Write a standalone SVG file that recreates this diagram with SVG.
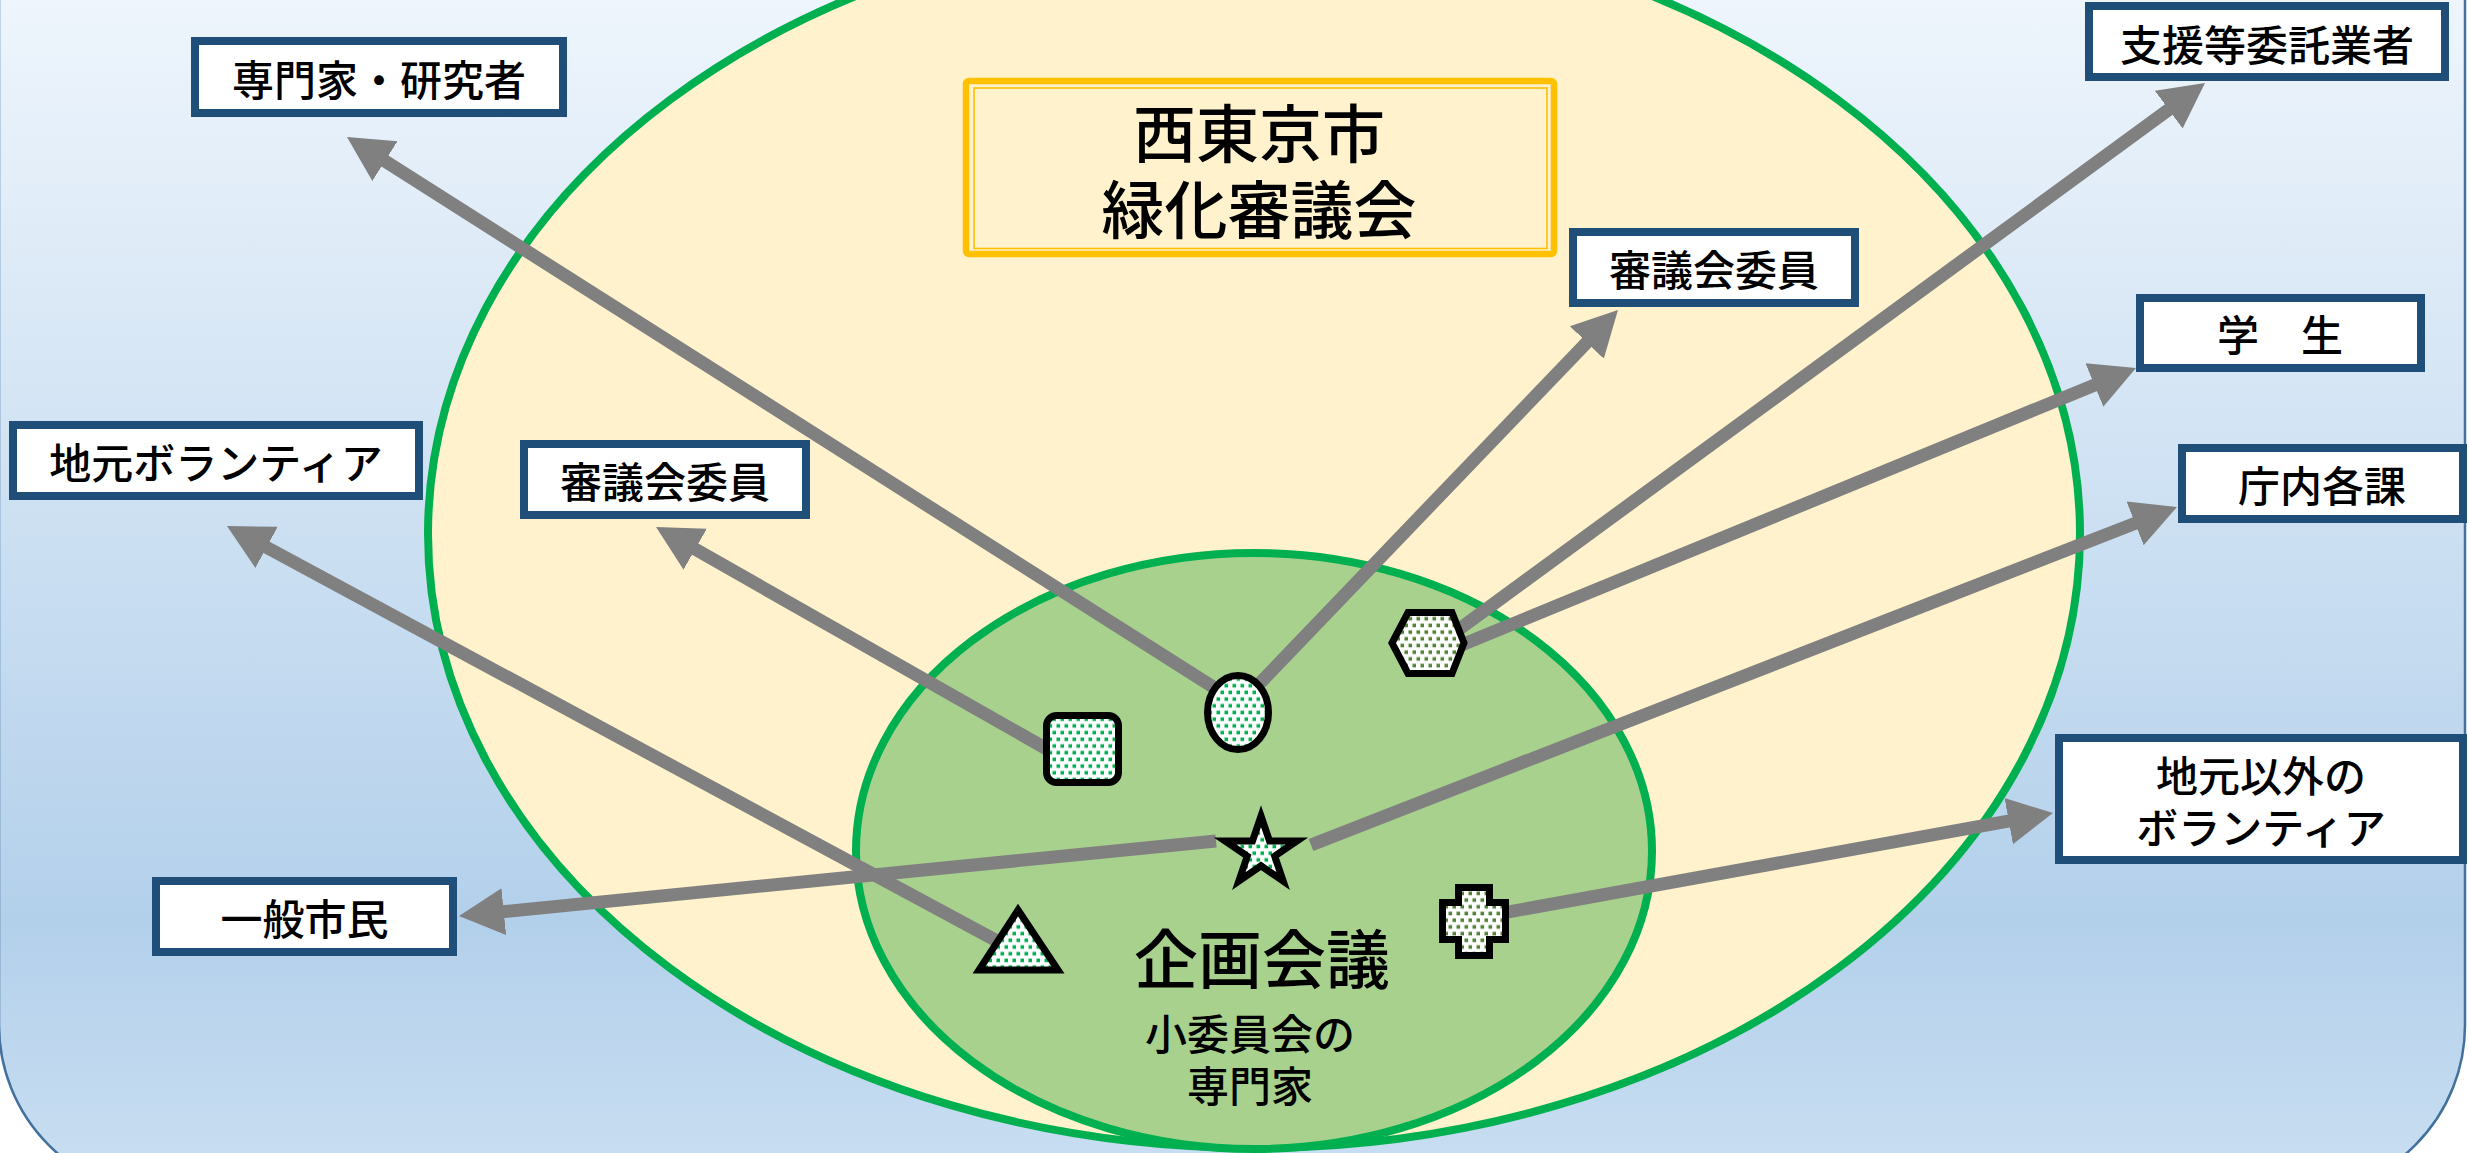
<svg xmlns="http://www.w3.org/2000/svg" width="2469" height="1153" viewBox="0 0 2469 1153">
<style>
.lbl{font-family:"Noto Sans CJK JP","Noto Sans CJK SC",sans-serif;font-size:42px;font-weight:500;fill:#000;text-anchor:middle}
.box{fill:#fff;stroke:#1f4e79;stroke-width:8}
.conn{stroke:#808080;stroke-width:13;fill:none;marker-end:url(#arr)}
.shape{stroke:#000;stroke-width:7;stroke-linejoin:miter}
.ttl{font-family:"Noto Sans CJK JP","Noto Sans CJK SC",sans-serif;font-weight:500;fill:#000;text-anchor:middle}
</style>
<defs>
<linearGradient id="bg" x1="0" y1="0" x2="0" y2="1153" gradientUnits="userSpaceOnUse">
<stop offset="0" stop-color="#eef5fc"/>
<stop offset="0.8" stop-color="#b3d0eb"/>
<stop offset="1" stop-color="#c7ddf1"/>
</linearGradient>
<pattern id="dotG" width="8" height="13.4" patternUnits="userSpaceOnUse">
<rect width="8" height="13.4" fill="#fff"/>
<rect x="0.5" y="0.5" width="3.6" height="3.6" fill="#00b050"/>
<rect x="4.5" y="7.2" width="3.6" height="3.6" fill="#00b050"/>
</pattern>
<pattern id="dotO" width="8" height="13.4" patternUnits="userSpaceOnUse">
<rect width="8" height="13.4" fill="#fff"/>
<rect x="0.5" y="0.5" width="3.6" height="3.6" fill="#548235"/>
<rect x="4.5" y="7.2" width="3.6" height="3.6" fill="#548235"/>
</pattern>
<marker id="arr" markerUnits="userSpaceOnUse" viewBox="0 -25 46 50" markerWidth="46" markerHeight="50" refX="1" refY="0" orient="auto">
<path d="M0,-23.5 L45,0 L0,23.5 Z" fill="#808080"/>
</marker>
</defs>

<rect id="background" x="-1" y="-400" width="2466" height="1595" rx="170" ry="170" fill="url(#bg)" stroke="#41719c" stroke-width="2.5"/>

<g id="outer-ellipse">
<ellipse cx="1254" cy="534" rx="826" ry="614" fill="#fff2cc" stroke="#00b050" stroke-width="8"/>
</g>
<g id="inner-ellipse">
<ellipse cx="1254" cy="851" rx="398" ry="298" fill="#a9d18e" stroke="#00b050" stroke-width="8"/>
<text class="ttl" x="1262" y="983" font-size="64">企画会議</text>
<text class="ttl" x="1250" y="1049.5" font-size="42">小委員会の</text>
<text class="ttl" x="1250" y="1101.5" font-size="42">専門家</text>
</g>

<g id="title">
<rect x="966" y="81" width="588" height="173" rx="3" fill="#fff2cc" stroke="#ffc000" stroke-width="6.5"/>
<rect x="974" y="88" width="573" height="160.5" fill="none" stroke="#ffc000" stroke-width="1.6"/>
<text class="ttl" x="1259" y="157" font-size="63">西東京市</text>
<text class="ttl" x="1259" y="233" font-size="63">緑化審議会</text>
</g>

<g id="connectors">
<line class="conn" x1="1221" y1="692" x2="384.1" y2="160.6"/>
<line class="conn" x1="1053" y1="752.5" x2="694.3" y2="548.7"/>
<line class="conn" x1="1004" y1="944.8" x2="265.7" y2="546.9"/>
<line class="conn" x1="1216" y1="841" x2="502.8" y2="911.7"/>
<line class="conn" x1="1311" y1="845" x2="2136" y2="523"/>
<line class="conn" x1="1253.5" y1="689.8" x2="1587.5" y2="341.7"/>
<line class="conn" x1="1451.5" y1="634.7" x2="2169.5" y2="109"/>
<line class="conn" x1="1456.6" y1="647" x2="2095.3" y2="384.7"/>
<line class="conn" x1="1495" y1="914.4" x2="2009.7" y2="820.9"/>
</g>

<g id="node-square">
<rect class="shape" x="1046.5" y="715.5" width="72" height="67" rx="10" fill="url(#dotG)"/>
</g>
<g id="node-oval">
<ellipse class="shape" cx="1238" cy="712.5" rx="30.5" ry="37" fill="url(#dotG)"/>
</g>
<g id="node-hexagon">
<polygon class="shape" points="1392,643 1408,612.5 1452,612.5 1464,643 1452,673.5 1408,673.5" fill="url(#dotO)"/>
</g>
<g id="node-star">
<polygon class="shape" points="1261,816 1269.5,840.9 1297,840.9 1274.7,856.2 1283.2,881.1 1261,865.8 1238.8,881.1 1247.3,856.2 1225,840.9 1252.5,840.9" fill="url(#dotG)"/>
</g>
<g id="node-triangle">
<polygon class="shape" points="1018,910 1058,970 979,970" fill="url(#dotG)"/>
</g>
<g id="node-cross">
<path class="shape" d="M1458.5,887.5 H1489.5 V902.5 H1505.5 V939.5 H1489.5 V955.5 H1458.5 V939.5 H1442.5 V902.5 H1458.5 Z" fill="url(#dotO)"/>
</g>

<g id="box-senmonka">
<rect class="box" x="195" y="41" width="368" height="72"/>
<text class="lbl" x="379" y="95.5">専門家・研究者</text>
</g>
<g id="box-jimoto-volunteer">
<rect class="box" x="13" y="425" width="406" height="71"/>
<text class="lbl" x="216" y="478.5">地元ボランティア</text>
</g>
<g id="box-iin-left">
<rect class="box" x="524" y="444" width="282" height="71"/>
<text class="lbl" x="665" y="497.5">審議会委員</text>
</g>
<g id="box-shien">
<rect class="box" x="2089" y="6" width="356" height="71"/>
<text class="lbl" x="2267" y="60.5">支援等委託業者</text>
</g>
<g id="box-iin-right">
<rect class="box" x="1573" y="232" width="282" height="71"/>
<text class="lbl" x="1714" y="285.5">審議会委員</text>
</g>
<g id="box-gakusei">
<rect class="box" x="2140" y="298" width="281" height="70"/>
<text class="lbl" x="2280" y="350.5">学　生</text>
</g>
<g id="box-chonai">
<rect class="box" x="2182" y="448" width="281" height="71"/>
<text class="lbl" x="2322" y="501.5">庁内各課</text>
</g>
<g id="box-jimoto-igai">
<rect class="box" x="2059" y="738" width="404" height="122"/>
<text class="lbl" x="2261" y="791.5">地元以外の</text>
<text class="lbl" x="2261" y="843.5">ボランティア</text>
</g>
<g id="box-ippan">
<rect class="box" x="156" y="881" width="297" height="71"/>
<text class="lbl" x="304.5" y="934.5">一般市民</text>
</g>
</svg>
